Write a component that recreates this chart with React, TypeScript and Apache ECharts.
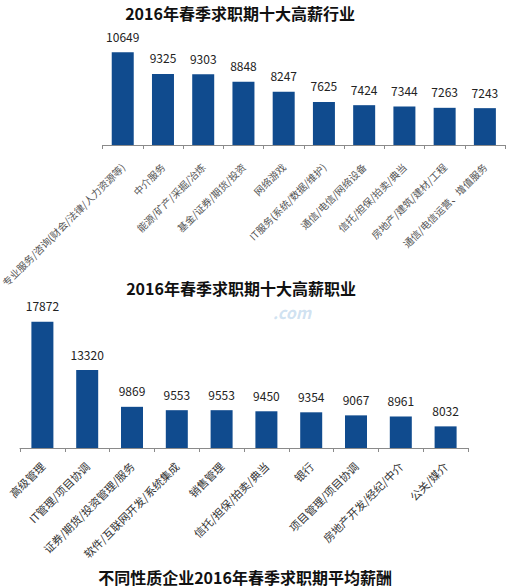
import * as echarts from "echarts";
import { useEffect, useRef } from "react";

const FONT = '"Noto Sans CJK SC", "Noto Sans", sans-serif';
const BAR_COLOR = "#104b8e";

/** 十大高薪行业 */
const industryNames = [
  "专业服务/咨询(财会/法律/人力资源等)",
  "中介服务",
  "能源/矿产/采掘/冶炼",
  "基金/证券/期货/投资",
  "网络游戏",
  "IT服务(系统/数据/维护)",
  "通信/电信/网络设备",
  "信托/担保/拍卖/典当",
  "房地产/建筑/建材/工程",
  "通信/电信运营、增值服务",
];
const industrySalary = [10649, 9325, 9303, 8848, 8247, 7625, 7424, 7344, 7263, 7243];

/** 十大高薪职业 */
const jobNames = [
  "高级管理",
  "IT管理/项目协调",
  "证券/期货/投资管理/服务",
  "软件/互联网开发/系统集成",
  "销售管理",
  "信托/担保/拍卖/典当",
  "银行",
  "项目管理/项目协调",
  "房地产开发/经纪/中介",
  "公关/媒介",
];
const jobSalary = [17872, 13320, 9869, 9553, 9553, 9450, 9354, 9067, 8961, 8032];

const titles = [
  "2016年春季求职期十大高薪行业",
  "2016年春季求职期十大高薪职业",
  "不同性质企业2016年春季求职期平均薪酬",
];

function xAxisFor(gridIndex: number, data: string[], fontSize: number, color: string, margin: number) {
  return {
    type: "category" as const,
    gridIndex,
    data,
    boundaryGap: true,
    axisLine: { lineStyle: { color: "#8a8a8a", width: 1 } },
    axisTick: { show: true, length: 4, alignWithLabel: false, lineStyle: { color: "#8a8a8a" } },
    axisLabel: {
      interval: 0,
      rotate: 45,
      margin,
      fontSize,
      color,
      fontFamily: FONT,
    },
  };
}

function barSeries(index: number, data: number[]) {
  return {
    type: "bar" as const,
    xAxisIndex: index,
    yAxisIndex: index,
    data,
    barWidth: 22,
    itemStyle: { color: BAR_COLOR },
    label: {
      show: true,
      position: "top" as const,
      distance: 10,
      fontSize: 12,
      color: "#222",
      fontFamily: FONT,
    },
  };
}

function titleText(text: string, x: number, y: number) {
  return {
    type: "text" as const,
    x,
    y,
    style: {
      text,
      fontSize: 16,
      fontWeight: "bold" as const,
      fontFamily: FONT,
      fill: "#111",
      align: "center" as const,
      verticalAlign: "middle" as const,
    },
  };
}

function buildOption(): echarts.EChartsOption {
  return {
    animation: false,
    backgroundColor: "#ffffff",
    textStyle: { fontFamily: FONT },
    grid: [
      { left: 61, right: 23, top: 30, bottom: 443 },
      { left: 20, right: 60, top: 299, bottom: 140 },
    ],
    xAxis: [
      xAxisFor(0, industryNames, 10, "#555", 20),
      xAxisFor(1, jobNames, 11, "#333", 16),
    ],
    yAxis: [
      { type: "value", gridIndex: 0, min: 5000, max: 12000, show: false },
      { type: "value", gridIndex: 1, min: 6000, max: 20000, show: false },
    ],
    series: [barSeries(0, industrySalary), barSeries(1, jobSalary)],
    graphic: [
      titleText(titles[0], 240, 13),
      {
        type: "text",
        x: 292,
        y: 312,
        style: {
          text: ".com",
          fontSize: 16,
          fontStyle: "italic",
          fontWeight: "bold",
          fontFamily: FONT,
          fill: "rgba(150,190,225,0.45)",
          align: "center",
          verticalAlign: "middle",
        },
      },
      titleText(titles[1], 241, 288),
      titleText(titles[2], 245, 577),
    ],
  };
}

export default function App() {
  const chartRef = useRef<HTMLDivElement | null>(null);

  useEffect(() => {
    const el = chartRef.current;
    if (!el) {
      return undefined;
    }
    const chart = echarts.init(el, undefined, { renderer: "svg" });
    chart.setOption(buildOption());
    return () => {
      chart.dispose();
    };
  }, []);

  return (
    <div
      ref={chartRef}
      style={{ position: "absolute", left: 0, top: 0, width: 528, height: 588 }}
    />
  );
}
